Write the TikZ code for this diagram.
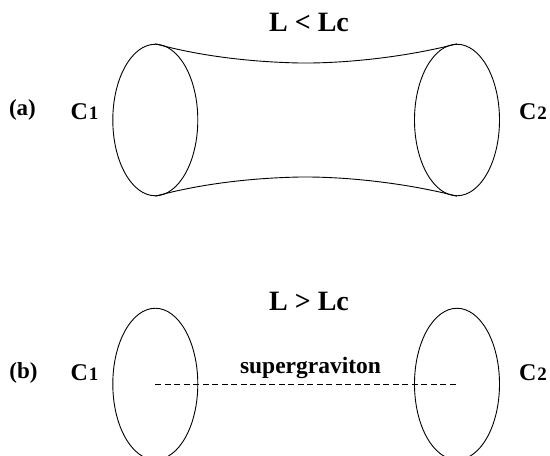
\documentclass[tikz,border=0pt]{standalone}
\usepackage{fontspec}
\setmainfont{Liberation Serif}
\usetikzlibrary{shapes.geometric}
\tikzset{loopnode/.style={draw,line width=0.9pt,ellipse,minimum width=85pt,minimum height=151.5pt,inner sep=0pt},
titlenode/.style={font=\fontsize{28}{30}\selectfont\bfseries,inner sep=0pt},
casenode/.style={font=\fontsize{23}{25}\selectfont\bfseries,inner sep=0pt},
curvenode/.style={font=\fontsize{24}{26}\selectfont\bfseries,inner sep=0pt}}
\newcommand{\curvelab}[1]{C\kern1pt{\fontsize{19}{21}\selectfont #1}}
\begin{document}
\begin{tikzpicture}[x=1pt,y=-1pt]
\useasboundingbox (0,0) rectangle (550,456);
\clip (0,0) rectangle (550,456);
\node[loopnode] (c1a) at (155.3,120) {};
\node[loopnode] (c2a) at (457,120) {};
\draw[line width=0.9pt] (c1a.north) .. controls (200,56) and (250,62) .. (300,63) .. controls (350,63.5) and (410,56) .. (c2a.north);
\draw[line width=0.9pt] (c1a.south) .. controls (200,184) and (250,178) .. (300,177) .. controls (350,176.5) and (410,184) .. (c2a.south);
\node[titlenode] (ta) at (309,22) {L < Lc};
\node[casenode] (la) at (22.5,110) {(a)};
\node[curvenode] (c1ta) at (84.5,112) {\curvelab{1}};
\node[curvenode] (c2ta) at (533,112) {\curvelab{2}};
\node[loopnode] (c1b) at (155.3,384) {};
\node[loopnode] (c2b) at (457,384) {};
\draw[line width=0.8pt,dash pattern=on 6pt off 3.5pt] (c1b.center) -- (c2b.center);
\node[titlenode] (tb) at (309,301) {L > Lc};
\node[curvenode,font=\fontsize{23.5}{25}\selectfont\bfseries] (sg) at (310.5,368) {supergraviton};
\node[casenode] (lb) at (23.5,373) {(b)};
\node[curvenode] (c1tb) at (84.5,373) {\curvelab{1}};
\node[curvenode] (c2tb) at (533,373) {\curvelab{2}};
\end{tikzpicture}
\end{document}
